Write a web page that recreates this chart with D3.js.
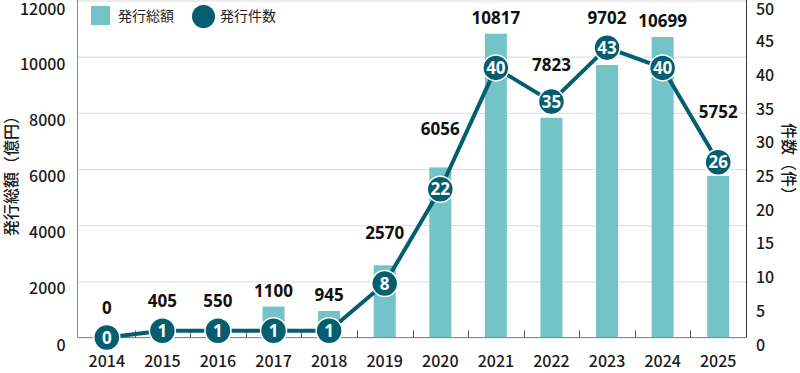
<!DOCTYPE html>
<html>
<head>
<meta charset="utf-8">
<script src="https://cdn.jsdelivr.net/npm/d3@7"></script>
<style>
  body { margin: 0; background: #fff; }
  svg text { font-family: "Noto Sans CJK JP", "Noto Sans", sans-serif; }
</style>
</head>
<body>
<svg id="chart" width="800" height="373"></svg>
<script>
const years = ["2014", "2015", "2016", "2017", "2018", "2019", "2020", "2021", "2022", "2023", "2024", "2025"];
const amounts = [0, 405, 550, 1100, 945, 2570, 6056, 10817, 7823, 9702, 10699, 5752];
const counts = [0, 1, 1, 1, 1, 8, 22, 40, 35, 43, 40, 26];
const amountTicks = [0, 2000, 4000, 6000, 8000, 10000, 12000];
const countTicks = [0, 5, 10, 15, 20, 25, 30, 35, 40, 45, 50];

(function () {
const svg = d3.select("svg#chart");
const plotLeft = 77.5, plotRight = 746, plotTop = 0.5, plotBottom = 337.5;
const barColor = "#73c3c7";
const lineColor = "#055e6f";
const r = 13;

const xScale = d3.scaleBand().domain(years).range([79, 746]).padding(0);
const cx = d => xScale(d) + xScale.bandwidth() / 2;
const yAmount = d3.scaleLinear().domain([0, 12000]).range([plotBottom, plotTop]);
const yCount = d3.scaleLinear().domain([0, 50]).range([plotBottom, plotTop]);

// tick labels sit just under their gridline, kept inside the picture at the top
const labelY = g => g.selectAll(".tick").each(function () {
    const ty = +d3.select(this).attr("transform").match(/,\s*([-\d.]+)/)[1];
    d3.select(this).select("text").attr("dy", null).attr("y", Math.max(12.5, 15 - ty));
});

// gridlines
svg.append("g").attr("class", "gridlines")
    .attr("transform", `translate(${plotLeft},0)`)
    .call(d3.axisLeft(yAmount).tickValues(amountTicks).tickSize(-(plotRight - plotLeft)).tickFormat(""))
    .call(g => g.select(".domain").remove())
    .call(g => g.selectAll("line").attr("stroke", "#dcdcdc"));

// left axis labels
svg.append("g").attr("class", "y axis")
    .attr("transform", `translate(${plotLeft},0)`)
    .call(d3.axisLeft(yAmount).tickValues(amountTicks).tickSize(0).tickPadding(12).tickFormat(d3.format("d")))
    .call(g => g.select(".domain").remove())
    .call(labelY)
    .call(g => g.selectAll("text")
        .attr("fill", "#1a1a1a").style("font-size", "16px").style("font-weight", 500));

// right axis labels
svg.append("g").attr("class", "y2 axis")
    .attr("transform", `translate(${plotRight},0)`)
    .call(d3.axisRight(yCount).tickValues(countTicks).tickSize(0).tickPadding(10).tickFormat(d3.format("d")))
    .call(g => g.select(".domain").remove())
    .call(labelY)
    .call(g => g.selectAll("text")
        .attr("fill", "#1a1a1a").style("font-size", "16px").style("font-weight", 500));

// bottom axis labels
svg.append("g").attr("class", "x axis")
    .attr("transform", `translate(0,${plotBottom})`)
    .call(d3.axisBottom(xScale).tickSize(0).tickPadding(0))
    .call(g => g.select(".domain").remove())
    .call(g => g.selectAll("text")
        .attr("dy", null).attr("y", 29.5)
        .attr("fill", "#1a1a1a").style("font-size", "16px").style("font-weight", 500));

// bars
const barW = 22;
svg.append("g").attr("id", "bars")
    .selectAll("rect.bar").data(years)
    .join("rect").attr("class", "bar")
    .attr("fill", barColor)
    .attr("x", d => cx(d) - barW / 2)
    .attr("width", barW)
    .attr("y", (d, i) => yAmount(amounts[i]))
    .attr("height", (d, i) => yAmount(0) - yAmount(amounts[i]));

// axis lines and inner ticks
const frame = svg.append("g").attr("id", "frame");
frame.append("line").attr("x1", plotLeft).attr("x2", plotLeft).attr("y1", 0).attr("y2", plotBottom)
    .attr("stroke", "#8a8a8a");
frame.append("line").attr("x1", plotLeft).attr("x2", plotRight).attr("y1", plotBottom).attr("y2", plotBottom)
    .attr("stroke", "#8a8a8a");
frame.append("line").attr("x1", plotRight + 0.5).attr("x2", plotRight + 0.5).attr("y1", 0).attr("y2", plotBottom)
    .attr("stroke", "#333");
frame.selectAll("line.xtick").data(years.slice(1))
    .join("line").attr("class", "xtick")
    .attr("x1", d => Math.round(xScale(d)) + 0.5).attr("x2", d => Math.round(xScale(d)) + 0.5)
    .attr("y1", plotBottom - 7).attr("y2", plotBottom)
    .attr("stroke", "#555");

// line series
const pts = years.map((d, i) => [cx(d), yCount(counts[i])]);
svg.append("path").attr("id", "countLine")
    .datum(pts)
    .attr("fill", "none")
    .attr("stroke", lineColor)
    .attr("stroke-width", 4)
    .attr("stroke-linejoin", "round")
    .attr("d", d3.line());

const dots = svg.append("g").attr("id", "dots");
dots.selectAll("circle").data(years)
    .join("circle")
    .attr("cx", d => cx(d))
    .attr("cy", (d, i) => yCount(counts[i]))
    .attr("r", r)
    .attr("fill", lineColor)
    .attr("stroke", "#fff")
    .attr("stroke-width", 1.5);
dots.selectAll("text").data(years)
    .join("text")
    .attr("x", d => cx(d))
    .attr("y", (d, i) => yCount(counts[i]) + 6)
    .attr("text-anchor", "middle")
    .attr("fill", "#fff")
    .style("font-family", "'Noto Sans', sans-serif")
    .style("font-size", "17px")
    .style("font-weight", 700)
    .text((d, i) => counts[i]);

// amount labels: sit above the bar, the dot and the line passing under them
function lineYAt(x) {
    for (let k = 0; k < pts.length - 1; k++) {
        const [x0, y0] = pts[k], [x1, y1] = pts[k + 1];
        if (x >= x0 && x <= x1) return y0 + (y1 - y0) * (x - x0) / (x1 - x0);
    }
    return Infinity;
}
svg.append("g").attr("id", "amountLabels")
    .selectAll("text").data(years)
    .join("text")
    .attr("x", d => cx(d))
    .attr("y", (d, i) => {
        const x = cx(d);
        const hw = String(amounts[i]).length * 4.8;
        const clear = Math.min(
            yAmount(amounts[i]),
            yCount(counts[i]) - r - 1,
            lineYAt(x - hw) - 2,
            lineYAt(x + hw) - 2
        );
        return clear - 10;
    })
    .attr("text-anchor", "middle")
    .attr("fill", "#111")
    .style("font-family", "'Noto Sans', sans-serif")
    .style("font-size", "17px")
    .style("font-weight", 700)
    .text((d, i) => amounts[i]);

// axis titles
svg.append("text")
    .attr("transform", "translate(17,172) rotate(-90)")
    .attr("text-anchor", "middle")
    .attr("fill", "#1a1a1a")
    .style("font-size", "16px").style("font-weight", 500)
    .text("発行総額（億円）");
svg.append("text")
    .attr("transform", "translate(783,163) rotate(90)")
    .attr("text-anchor", "middle")
    .attr("fill", "#1a1a1a")
    .style("font-size", "16px").style("font-weight", 500)
    .text("件数（件）");

// legend
const legend = svg.append("g").attr("id", "legend");
legend.append("rect").attr("x", 91).attr("y", 6).attr("width", 19).attr("height", 19).attr("fill", barColor);
legend.append("text").attr("x", 118).attr("y", 21).attr("fill", "#222")
    .style("font-size", "14px").text("発行総額");
legend.append("circle").attr("cx", 203.5).attr("cy", 16.5).attr("r", 11.5).attr("fill", lineColor);
legend.append("text").attr("x", 220).attr("y", 21).attr("fill", "#222")
    .style("font-size", "14px").text("発行件数");
})();
</script>
</body>
</html>
